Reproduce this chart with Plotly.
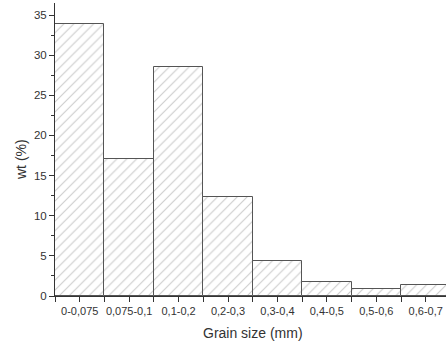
import plotly.graph_objects as go

categories = ["0-0,075", "0,075-0,1", "0,1-0,2", "0,2-0,3", "0,3-0,4", "0,4-0,5", "0,5-0,6", "0,6-0,7"]
wt_values = [33.9, 17.1, 28.5, 12.3, 4.35, 1.75, 0.85, 1.4]
y_ticks = [0, 5, 10, 15, 20, 25, 30, 35]

xpos = list(range(len(categories)))

fig = go.Figure()
fig.add_trace(go.Bar(
    x=xpos, y=wt_values, width=1.0,
    marker=dict(
        color="white",
        line=dict(color="#555555", width=1),
        pattern=dict(shape="/", fgcolor="#999999", bgcolor="white", size=7, solidity=0.16),
    ),
    showlegend=False,
))

font = "Liberation Sans, Arial, sans-serif"
W, H = 446, 345
fig.update_layout(
    width=W, height=H,
    margin=dict(l=55, r=0, t=3, b=49),
    plot_bgcolor="white", paper_bgcolor="white",
    bargap=0,
    font=dict(family=font, size=11, color="#333333"),
    xaxis=dict(
        range=[-0.5, 7.41], automargin=False,
        tickmode="array", tickvals=xpos, ticktext=categories,
        ticks="outside", ticklen=5, tickcolor="#333333",
        showline=True, linecolor="#333333", linewidth=1,
        showgrid=False, zeroline=False,
        tickfont=dict(size=11),
        minor=dict(tickmode="array", tickvals=[i + 0.5 for i in range(-1, 8)], ticks="outside", ticklen=5, tickcolor="#333333", showgrid=False),
    ),
    yaxis=dict(
        range=[0, 36.5], automargin=False,
        tickmode="array", tickvals=y_ticks,
        ticks="outside", ticklen=5, tickcolor="#333333",
        showline=True, linecolor="#333333", linewidth=1,
        showgrid=False, zeroline=False,
        tickfont=dict(size=11.5),
        minor=dict(tickmode="array", tickvals=[2.5 + 5 * i for i in range(7)], ticks="outside", ticklen=3, tickcolor="#333333", showgrid=False),
    ),
    annotations=[
        dict(text="Grain size (mm)", xref="paper", yref="paper",
             x=(252.5 - 55) / (W - 55), y=-(333 - 296) / (296 - 3),
             xanchor="center", yanchor="middle", showarrow=False,
             font=dict(size=14, color="#333333")),
        dict(text="wt (%)", xref="paper", yref="paper", textangle=-90,
             x=-(55 - 21) / (W - 55), y=(296 - 160) / (296 - 3),
             xanchor="center", yanchor="middle", showarrow=False,
             font=dict(size=14, color="#333333")),
    ],
)

fig.write_html("out.html", config={"displayModeBar": False},
               post_script="document.body.style.margin='0';document.body.style.overflow='hidden';")
